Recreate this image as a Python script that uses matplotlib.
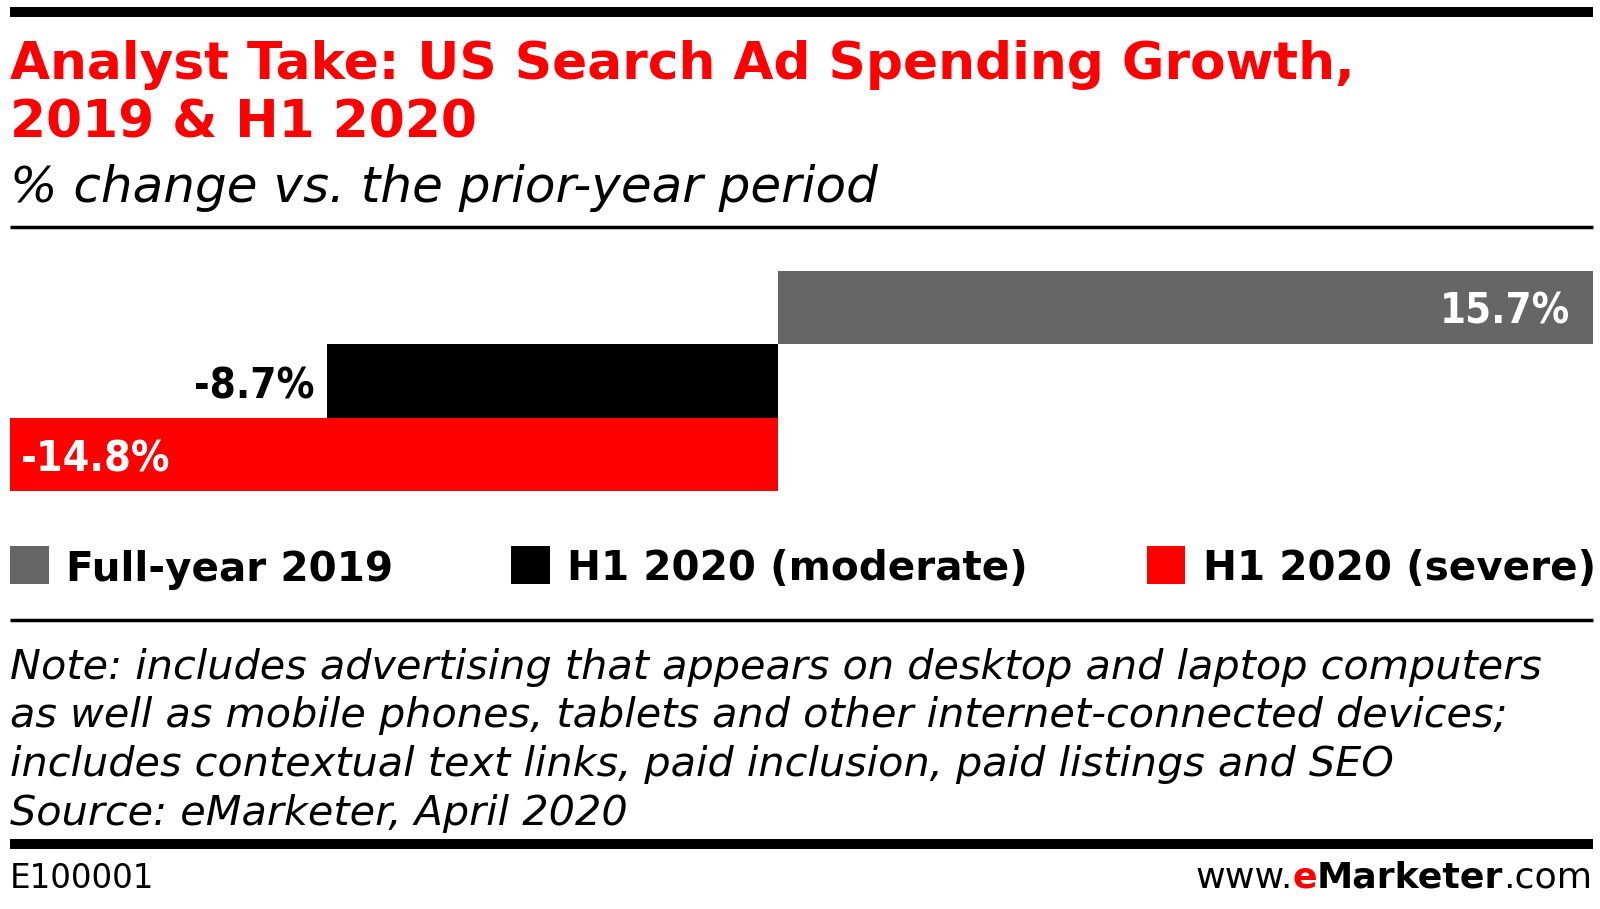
import matplotlib
matplotlib.use("Agg")
import matplotlib.pyplot as plt
from matplotlib.patches import Rectangle
from matplotlib import font_manager as fm

categories = ["Full-year 2019", "H1 2020 (moderate)", "H1 2020 (severe)"]
values = [15.7, -8.7, -14.8]
labels = ["15.7%", "-8.7%", "-14.8%"]
colors = ["#666666", "#000000", "#ff0000"]

title_lines = ["Analyst Take: US Search Ad Spending Growth,", "2019 & H1 2020"]
subtitle = "% change vs. the prior-year period"
note_lines = [
    "Note: includes advertising that appears on desktop and laptop computers",
    "as well as mobile phones, tablets and other internet-connected devices;",
    "includes contextual text links, paid inclusion, paid listings and SEO",
    "Source: eMarketer, April 2020",
]
footer_left = "E100001"

W, H = 1600, 909
fig = plt.figure(figsize=(W / 100, H / 100), dpi=100)
fig.patch.set_facecolor("white")

names = {f.name for f in fm.fontManager.ttflist}
if "Liberation Sans Narrow" in names:
    cond_kw = dict(family="Liberation Sans Narrow", fontweight="bold")
else:
    cond_kw = dict(family="DejaVu Sans", fontweight="bold", fontstretch="condensed")

# overlay axes in pixel coordinates
ov = fig.add_axes([0, 0, 1, 1])
ov.set_xlim(0, W)
ov.set_ylim(H, 0)
ov.axis("off")
ov.set_zorder(5)
ov.patch.set_alpha(0)

renderer = fig.canvas.get_renderer()

L, R = 10, 1593


def fit_text(x, y, s, target_w, ha="left", va="baseline", **kw):
    t = ov.text(x, y, s, ha=ha, va=va, fontsize=20, **kw)
    bb = t.get_window_extent(renderer)
    fs = 20 * target_w / bb.width
    t.set_fontsize(fs)
    return t, fs


def width_of(t):
    return t.get_window_extent(renderer).width

# rules
ov.plot([L, R], [12, 12], color="black", lw=7.2, solid_capstyle="butt")
ov.plot([L, R], [227, 227], color="black", lw=2.5, solid_capstyle="butt")
ov.plot([L, R], [620, 620], color="black", lw=2.5, solid_capstyle="butt")
ov.plot([L, R], [844, 844], color="black", lw=7.2, solid_capstyle="butt")

# title
t1, fs_t = fit_text(L, 79, title_lines[0], 1343, color="#ff0000",
                    fontweight="bold", family="DejaVu Sans")
ov.text(L, 137, title_lines[1], ha="left", va="baseline", color="#ff0000",
        fontweight="bold", family="DejaVu Sans", fontsize=fs_t)

# subtitle
fit_text(L, 202, subtitle, 868, color="black", fontstyle="italic",
         family="DejaVu Sans")

# bar axes
bar_top, bar_bot = 271, 491
ax = fig.add_axes([L / W, 1 - bar_bot / H, (R - L) / W, (bar_bot - bar_top) / H])
ypos = list(range(len(values)))
ax.barh(ypos, values, height=1.0, color=colors, edgecolor="none")
ax.set_xlim(min(values), max(values))
ax.set_ylim(len(values) - 0.5, -0.5)
ax.axis("off")

# value labels
fit_text(1570, 307, labels[0], 130, ha="right", va="center_baseline", color="white", **cond_kw)
fit_text(315, 382, labels[1], 120, ha="right", va="center_baseline", color="black", **cond_kw)
fit_text(21, 455, labels[2], 149, ha="left", va="center_baseline", color="white", **cond_kw)

# legend
sq = [(10, 49), (511, 550), (1147, 1185)]
txt_x = [(66, 393), (567, 1030), (1203, 1593)]
fs_leg = None
for i, (c, (a, b), (tx0, tx1)) in enumerate(zip(colors, sq, txt_x)):
    ov.add_patch(Rectangle((a, 546), b - a, 38, color=c, lw=0))
    if fs_leg is None:
        t, fs_leg = fit_text(tx0, 565, categories[i], tx1 - tx0, va="center_baseline",
                             fontweight="bold", family="DejaVu Sans", color="black")
    else:
        ov.text(tx0, 565, categories[i], ha="left", va="center_baseline",
                fontweight="bold", family="DejaVu Sans", color="black", fontsize=fs_leg)

# notes
base = [679, 727, 776, 825]
t, fs_note = fit_text(L, base[0], note_lines[0], 1532, fontstyle="italic",
                      family="DejaVu Sans", color="black")
for s, yb in zip(note_lines[1:], base[1:]):
    ov.text(L, yb, s, ha="left", va="baseline", fontstyle="italic",
            family="DejaVu Sans", color="black", fontsize=fs_note)

# footer
t, fs_f = fit_text(L, 888, footer_left, 145, family="DejaVu Sans", color="black")
parts = [("www.", "normal", "black"), ("e", "bold", "#ff0000"),
         ("Marketer", "bold", "black"), (".com", "normal", "black")]
tmp = []
for s, w, c in parts:
    tt = ov.text(0, 888, s, ha="left", va="baseline", fontsize=fs_f,
                 fontweight=w, color=c, family="DejaVu Sans")
    tmp.append(tt)
total = sum(width_of(tt) for tt in tmp)
target = 398
for tt in tmp:
    tt.set_fontsize(fs_f * target / total)
x = R - target
for tt in tmp:
    tt.set_x(x)
    x += width_of(tt)

fig.savefig("out.png", dpi=100, facecolor="white")
